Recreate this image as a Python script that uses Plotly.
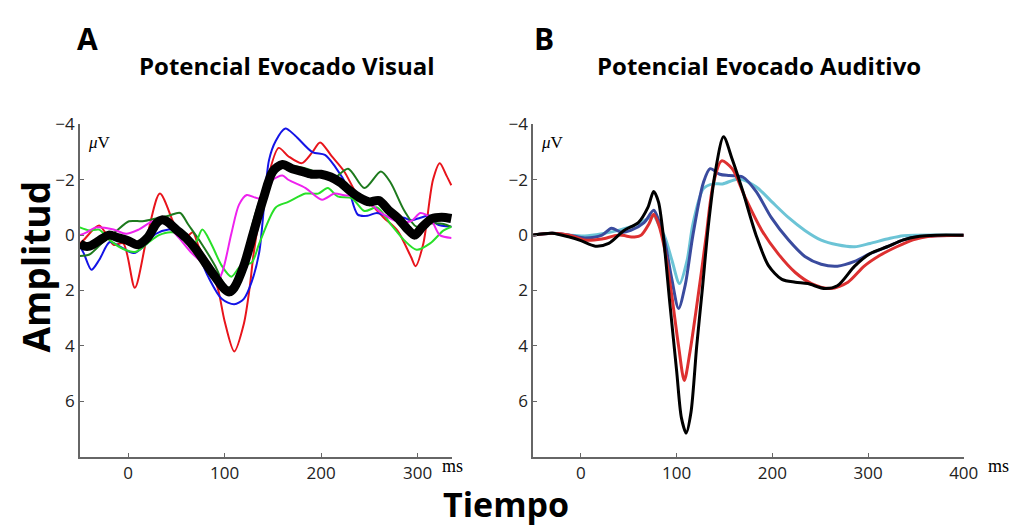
import plotly.graph_objects as go

# ---------------- Panel A: Potencial Evocado Visual ----------------
black_A_x = [-50,-45,-40,-30,-20,-10,0,10,20,30,35,40,50,60,70,80,90,100,105,110,120,130,140,150,160,170,180,190,200,210,220,230,240,250,260,270,280,290,297,305,315,325,335]
black_A_y = [0.3,0.4,0.4,0.2,0.0,0.1,0.2,0.35,0.1,-0.45,-0.55,-0.5,-0.2,0.1,0.5,1.0,1.5,1.95,2.05,1.9,1.1,-0.1,-1.3,-2.3,-2.55,-2.4,-2.3,-2.2,-2.2,-2.1,-1.9,-1.6,-1.35,-1.2,-1.25,-0.9,-0.6,-0.2,0.0,-0.3,-0.6,-0.65,-0.6]

red_A_x = [-50,-46,-30,-15,-5,7,20,33,49,58,67,73,82,93,100,110,120,126,130,136,143,156,166,180,191,199,211,224,238,252,265,279,293,298,306,316,323,330,335]
red_A_y = [0.3,0.18,-0.35,0.35,0.3,1.9,0.0,-1.5,-0.3,0.15,-0.1,0.4,1.0,1.93,3.1,4.2,3.2,1.9,0.7,-0.6,-1.8,-3.15,-2.85,-2.6,-3.0,-3.35,-2.85,-2.3,-1.45,-1.1,-0.63,-0.17,0.77,1.12,0.3,-2.0,-2.6,-2.15,-1.8]

blue_A_x = [-50,-46,-38,-30,-19,-9,6,18,29,42,56,69,83,97,110,120,128,136,146,153,163,173,191,204,214,228,238,248,258,272,286,293,303,313,320,335]
blue_A_y = [0.4,0.65,1.25,0.9,0.25,0.4,0.65,0.35,-0.05,-0.2,-0.15,0.4,1.5,2.3,2.5,2.3,1.7,0.6,-2.7,-3.4,-3.85,-3.6,-3.0,-2.9,-2.5,-1.7,-0.74,-0.7,-0.8,-0.63,-0.63,-0.53,-0.63,-0.7,-0.4,-0.3]

dkgreen_A_x = [-50,-40,-26,-12,1,15,29,42,54,62,76,90,100,105,112,120,129,136,146,156,170,185,200,211,228,245,262,272,286,299,309,327,335]
dkgreen_A_y = [0.75,0.7,0.25,-0.15,-0.5,-0.5,-0.6,-0.7,-0.8,-0.4,0.3,1.1,1.8,1.9,1.6,0.9,-0.4,-1.2,-1.8,-2.4,-2.5,-2.4,-2.2,-2.0,-2.4,-1.7,-2.3,-1.9,-0.9,-0.3,-0.4,-0.4,-0.3]

lime_A_x = [-50,-40,-30,-19,-5,8,20,32,46,59,69,77,86,97,107,117,128,136,153,166,184,197,207,217,232,245,258,272,286,299,313,327,335]
lime_A_y = [-0.28,-0.17,-0.2,0.18,0.5,0.6,0.3,0.0,-0.1,0.14,0.3,-0.2,0.3,1.1,1.5,1.1,1.0,0.3,-1.0,-1.2,-1.5,-1.5,-1.7,-1.4,-1.33,-0.87,-1.0,-0.4,0.18,0.53,0.3,-0.17,-0.3]

magenta_A_x = [-50,-43,-33,-15,-2,11,26,39,52,66,80,92,98,107,115,123,136,150,160,166,184,201,214,224,238,252,265,279,293,303,313,323,335]
magenta_A_y = [0.0,-0.1,-0.28,-0.2,-0.05,-0.2,-0.5,-0.4,0.07,0.65,1.1,1.7,1.3,-0.05,-1.1,-1.45,-1.33,-2.0,-2.15,-2.0,-1.7,-1.28,-1.5,-1.44,-1.4,-1.1,-0.74,-0.5,-0.5,-0.8,-0.63,0.0,0.1]

# ---------------- Panel B: Potencial Evocado Auditivo ----------------
black_B_x = [-50,-30,-12,0,15,29,45,60,70,76,81,86,93,100,105,110,115,121,127,133,140,149,158,169,183,196,210,224,237,255,268,286,302,320,337,354,371,400]
black_B_y = [0,-0.07,0.07,0.2,0.4,0.3,-0.17,-0.45,-1.0,-1.58,-1.2,0,2.5,4.9,6.6,7.15,6.4,4.0,1.9,-0.3,-2.2,-3.55,-2.75,-1.6,0,1.1,1.6,1.7,1.75,1.93,1.83,1.12,0.67,0.42,0.17,0.04,0,0]

red_B_x = [-50,-30,-12,4,22,39,56,63,71,76,81,88,95,102,108,114,120,126,131,138,147,158,172,189,206,224,241,261,279,296,313,330,347,364,400]
red_B_y = [0,-0.07,0,0.18,0.14,0,0.07,0,-0.4,-0.75,-0.4,0.6,2.2,4.0,5.25,4.2,2.8,1.3,0,-1.8,-2.68,-2.4,-1.33,-0.17,0.67,1.35,1.75,1.93,1.7,1.12,0.72,0.42,0.17,0.04,0]

blue_B_x = [-50,-30,-12,4,22,32,42,52,66,76,81,88,95,102,109,117,128,135,145,155,169,183,199,217,234,251,268,286,302,320,337,354,400]
blue_B_y = [0,-0.07,0,0.1,0,-0.25,-0.1,-0.17,-0.45,-0.9,-0.55,0.3,1.6,2.65,1.8,0,-1.9,-2.4,-2.2,-2.15,-2.1,-1.58,-0.63,0.18,0.77,1.05,1.12,0.95,0.67,0.42,0.17,0.05,0]

cyan_B_x = [-50,-30,-12,4,22,39,56,70,76,81,88,95,103,111,117,128,138,148,165,183,199,217,234,251,268,286,302,320,337,400]
cyan_B_y = [0,-0.07,0,0.03,-0.05,-0.17,-0.35,-0.6,-0.7,-0.4,0.1,0.9,1.75,0.9,-0.4,-1.68,-1.85,-1.85,-2.03,-1.75,-1.22,-0.63,-0.17,0.18,0.35,0.42,0.3,0.14,0.02,0]

y_ticks = [-4, -2, 0, 2, 4, 6]
x_ticks_A = [0, 100, 200, 300]
x_ticks_B = [0, 100, 200, 300, 400]

W, H = 1027, 526

fig = go.Figure()

def add(x, y, color, width, xa, ya):
    fig.add_trace(go.Scatter(x=x, y=y, mode="lines",
                             line=dict(color=color, width=width, shape="spline", smoothing=0.8),
                             xaxis=xa, yaxis=ya, showlegend=False, hoverinfo="skip"))

# Panel A
add(red_A_x, red_A_y, "#e8141b", 2, "x", "y")
add(blue_A_x, blue_A_y, "#1414e6", 2, "x", "y")
add(dkgreen_A_x, dkgreen_A_y, "#1d7a1d", 2, "x", "y")
add(lime_A_x, lime_A_y, "#28e028", 2, "x", "y")
add(magenta_A_x, magenta_A_y, "#ee22ee", 2, "x", "y")
add(black_A_x, black_A_y, "#000000", 9, "x", "y")

# Panel B
add(cyan_B_x, cyan_B_y, "#6cc4d6", 3, "x2", "y2")
add(blue_B_x, blue_B_y, "#3a4b9e", 3, "x2", "y2")
add(red_B_x, red_B_y, "#dd3030", 3, "x2", "y2")
add(black_B_x, black_B_y, "#000000", 3, "x2", "y2")

tickfont = dict(family="Open Sans, sans-serif", size=17, color="#222")
axis_common = dict(showline=True, linecolor="#666", linewidth=1.5, ticks="inside",
                   ticklen=4, tickcolor="#666", showgrid=False, zeroline=False,
                   tickfont=tickfont, fixedrange=True)

fig.update_layout(
    width=W, height=H, margin=dict(l=0, r=0, t=0, b=0),
    paper_bgcolor="white", plot_bgcolor="white",
    xaxis=dict(domain=[81 / W, 459 / W], range=[-50, 336], tickvals=x_ticks_A,
               anchor="y", **axis_common),
    yaxis=dict(domain=[1 - 455 / H, 1 - 115 / H], range=[8, -4], tickvals=y_ticks,
               anchor="x", **axis_common),
    xaxis2=dict(domain=[541 / W, 978 / W], range=[-50, 400], tickvals=x_ticks_B,
                anchor="y2", **axis_common),
    yaxis2=dict(domain=[1 - 455 / H, 1 - 115 / H], range=[8, -4], tickvals=y_ticks,
                anchor="x2", **axis_common),
)

def ann(text, px, py, size, bold=False, family="Open Sans, sans-serif", angle=0, xanchor="center"):
    fig.add_annotation(text=("<b>%s</b>" % text) if bold else text,
                       x=px / W, y=1 - py / H, xref="paper", yref="paper",
                       showarrow=False, textangle=angle, xanchor=xanchor, yanchor="middle",
                       font=dict(family=family, size=size, color="black"))

ann("A", 89, 27, 30, bold=True)
ann("B", 552, 27, 30, bold=True)
ann("Potencial Evocado Visual", 291, 55, 24, bold=True)
ann("Potencial Evocado Auditivo", 770, 55, 24, bold=True)
ann("Amplitud", 36, 260, 37, bold=True, angle=-90)
ann("Tiempo", 513, 503, 34, bold=True)
ann("<i>μ</i>V", 87, 134, 17, family="Liberation Serif, serif", xanchor="left")
ann("<i>μ</i>V", 547, 134, 17, family="Liberation Serif, serif", xanchor="left")
ann("ms", 447, 465, 18, family="Liberation Serif, serif", xanchor="left")
ann("ms", 1001, 465, 18, family="Liberation Serif, serif", xanchor="left")

fig.write_html("out.html")
